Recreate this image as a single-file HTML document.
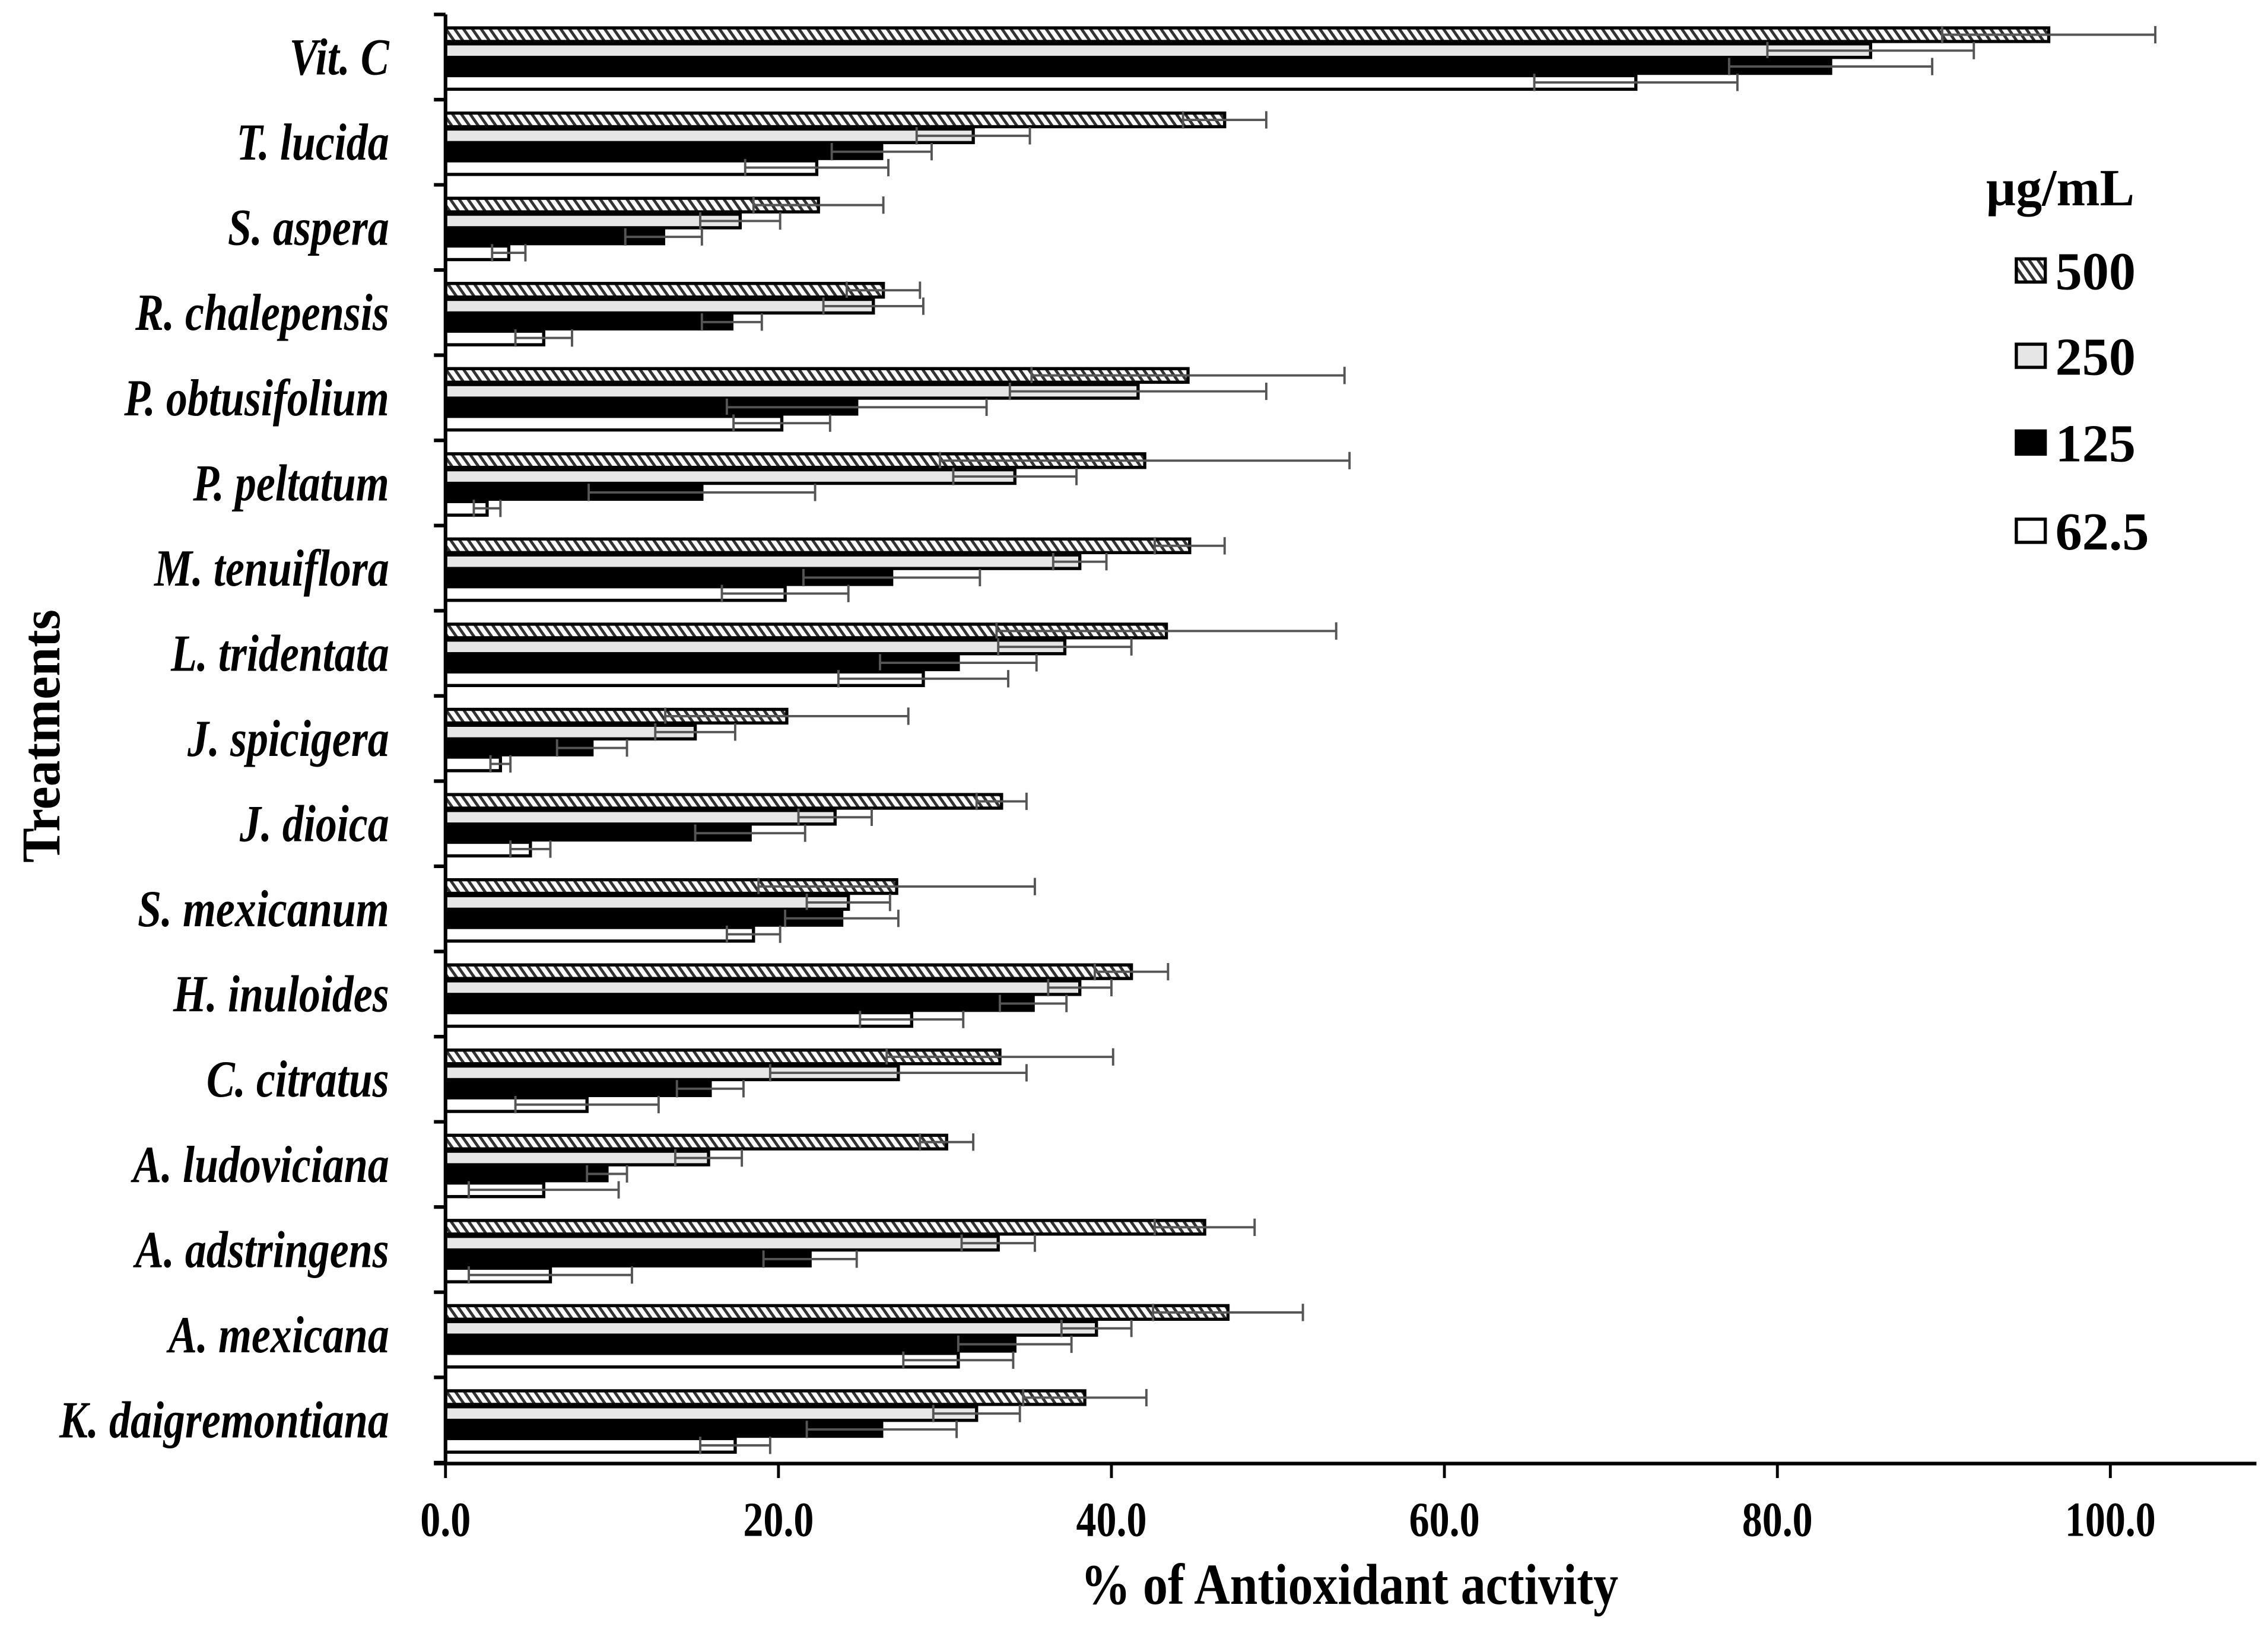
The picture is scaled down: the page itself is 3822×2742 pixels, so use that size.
<!DOCTYPE html>
<html><head><meta charset="utf-8"><style>html,body{margin:0;padding:0;background:#fff}svg{display:block}text{font-family:"Liberation Serif",serif;font-weight:bold}</style></head>
<body>
<svg id="chart" width="3822" height="2742" viewBox="0 0 1568 1125" preserveAspectRatio="none" xmlns="http://www.w3.org/2000/svg">
<defs>
<pattern id="hatch" patternUnits="userSpaceOnUse" width="5" height="5" patternTransform="rotate(-35)">
<rect width="5" height="5" fill="#fff"/><rect width="2" height="5" fill="#333"/>
</pattern>
</defs>
<g id="plot"></g>
</svg>
<script>
const categories = ["Vit. C","T. lucida","S. aspera","R. chalepensis","P. obtusifolium","P. peltatum","M. tenuiflora","L. tridentata","J. spicigera","J. dioica","S. mexicanum","H. inuloides","C. citratus","A. ludoviciana","A. adstringens","A. mexicana","K. daigremontiana"];
const seriesNames = ["500","250","125","62.5"];
const v500  = [96.3,46.8,22.4,26.3,44.6,42.0,44.7,43.3,20.5,33.4,27.1,41.2,33.3,30.1,45.6,47.0,38.4];
const e500  = [6.4,2.5,3.9,2.2,9.4,12.3,2.1,10.2,7.3,1.5,8.3,2.2,6.8,1.6,3.0,4.5,3.7];
const v250  = [85.6,31.7,17.7,25.7,41.6,34.2,38.1,37.2,15.0,23.4,24.2,38.1,27.2,15.8,33.2,39.1,31.9];
const e250  = [6.2,3.4,2.4,3.0,7.7,3.7,1.6,4.0,2.4,2.2,2.5,1.9,7.7,2.0,2.2,2.1,2.6];
const v125  = [83.2,26.2,13.1,17.2,24.7,15.4,26.8,30.8,8.8,18.3,23.8,35.3,15.9,9.7,21.9,34.2,26.2];
const e125  = [6.1,3.0,2.3,1.8,7.8,6.8,5.3,4.7,2.1,3.3,3.4,2.0,2.0,1.2,2.8,3.4,4.5];
const v625  = [71.5,22.3,3.8,5.9,20.2,2.5,20.4,28.7,3.3,5.1,18.5,28.0,8.5,5.9,6.3,30.8,17.4];
const e625  = [6.1,4.3,1.0,1.7,2.9,0.8,3.8,5.1,0.6,1.2,1.6,3.1,4.3,4.5,4.9,3.3,2.1];
const xTicks = ["0.0","20.0","40.0","60.0","80.0","100.0"];
const xTickVals = [0,20,40,60,80,100];

const values = [v500,v250,v125,v625];
const errs = [e500,e250,e125,e625];
const fills = ["url(#hatch)","#e6e6e6","#000","#fff"];
const NS = "http://www.w3.org/2000/svg";
const g = document.getElementById('plot');
const X0 = 308, X100 = 1459, AXB = 1012, TOP = 10, GS = 58.9, G0 = 18.5, BH = 11;
function xs(v){ return X0 + (X100 - X0) * v / 100; }
function gy(i){ return G0 + i * GS; }
function mk(tag, attrs, parent){ const e = document.createElementNS(NS, tag); for (const k in attrs) e.setAttribute(k, attrs[k]); (parent||g).appendChild(e); return e; }

categories.forEach((c, i) => {
  const grp = mk('g', {});
  
  
  values.forEach((arr, s) => {
    const y = gy(i) + s * BH;
    const r = mk('rect', {x: X0, y: y + 0.8, width: Math.max(0, xs(arr[i]) - X0), height: BH - 1.6, fill: fills[s], stroke: '#000', 'stroke-width': 2.2}, grp);
    
    
    const cy = y + BH / 2, lo = xs(arr[i] - errs[s][i]), hi = xs(arr[i] + errs[s][i]);
    const eb = mk('path', {d: `M${lo},${cy}H${hi}M${lo},${cy-6}V${cy+6}M${hi},${cy-6}V${cy+6}`, stroke: '#555', 'stroke-width': 1.6, fill: 'none'}, grp);
    
    
  });
  const t = mk('text', {x: 0, y: 0, 'text-anchor': 'end', 'font-size': 36, 'font-style': 'italic', transform: `translate(269,${gy(i) + 33}) scale(0.82,1)`});
  t.textContent = c;
  
  
});

const ya = mk('path', {d: `M${X0},${TOP}V${AXB}`, stroke: '#000', 'stroke-width': 2.5, fill: 'none'});


for (let i = 0; i <= categories.length; i++) {
  const yt = mk('path', {d: `M${X0-8},${TOP + i*GS}H${X0}`, stroke: '#000', 'stroke-width': 2.5});
  
  
}
const xa = mk('path', {d: `M${X0-8},${AXB}H1560`, stroke: '#000', 'stroke-width': 2.5, fill: 'none'});


xTickVals.forEach((v, k) => {
  const tk = mk('path', {d: `M${xs(v)},${AXB}V${AXB+10}`, stroke: '#000', 'stroke-width': 2});
  
  
  const tl = mk('text', {x: 0, y: 0, 'text-anchor': 'middle', 'font-size': 34, transform: `translate(${xs(v)},${AXB + 50}) scale(0.82,1)`});
  tl.textContent = xTicks[k];
  
  
});
const xt = mk('text', {x: 0, y: 0, 'text-anchor': 'middle', 'font-size': 40, transform: 'translate(933,1109) scale(0.86,1)'});
xt.textContent = '% of  Antioxidant activity';


const yt = mk('text', {x: 0, y: 0, 'text-anchor': 'middle', 'font-size': 38, transform: 'translate(41,509) rotate(-90) scale(0.95,1)'});
yt.textContent = 'Treatments';



const lg = mk('g', {});


const lt = mk('text', {x: 1373, y: 142, 'font-size': 36}, lg);
lt.textContent = 'µg/mL';


const legY = [187, 246, 306, 367];
seriesNames.forEach((n, s) => {
  const lb = mk('rect', {x: 1394, y: legY[s] - 8, width: 20, height: 16, fill: fills[s], stroke: '#000', 'stroke-width': 2.2}, lg);
  
  
  const ltx = mk('text', {x: 1421, y: legY[s] + 13, 'font-size': 37}, lg);
  ltx.textContent = n;
  
  
});
</script>
</body></html>
